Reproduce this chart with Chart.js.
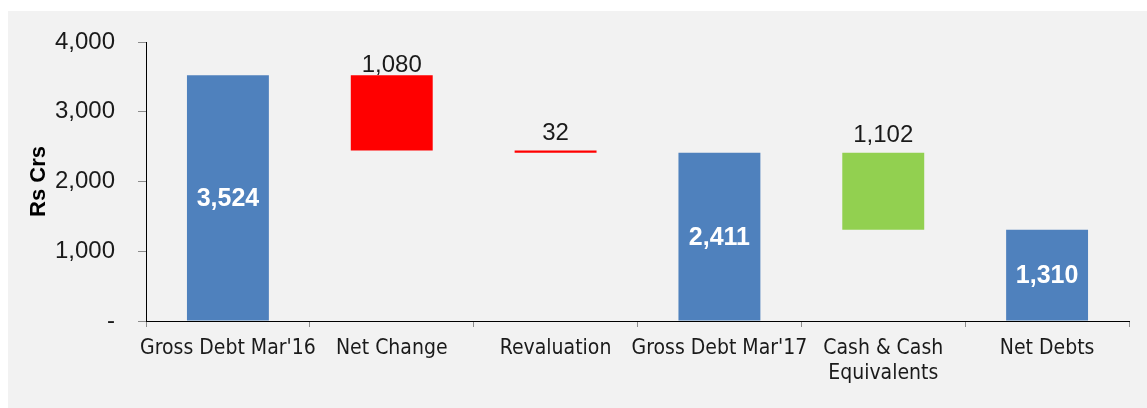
<!DOCTYPE html>
<html>
<head>
<meta charset="utf-8">
<script src="https://cdn.jsdelivr.net/npm/chart.js@4/dist/chart.umd.min.js"></script>
<style>
    html, body { margin: 0; padding: 0; background: #ffffff; }
    #wrap { position: absolute; left: 8px; top: 11px; width: 1139px; height: 397px; background: #f2f2f2; }
</style>
</head>
<body>
<div id="wrap"><canvas id="waterfall" width="1139" height="397"></canvas></div>
<script>
// waterfall data (Rs Crs)
var categories = ["Gross Debt Mar'16", 'Net Change', 'Revaluation', "Gross Debt Mar'17", ['Cash & Cash', 'Equivalents'], 'Net Debts']
var values = [3524, -1080, -32, 2411, -1102, 1310]
var isTotal = [true, false, false, true, false, true]
var yTicks = [0, 1000, 2000, 3000, 4000]

var colors = ['#4f81bd', '#ff0000', '#ff0000', '#4f81bd', '#92d050', '#4f81bd']
var labelGap = [0, 1, 8, 0, 8, 0]

// build floating ranges from running total
var ranges = []
var running = 0
for (var i = 0; i < values.length; i++) {
    if (isTotal[i]) {
        ranges.push([0, values[i]])
        running = values[i]
    } else {
        ranges.push([running + values[i], running])
        running = running + values[i]
    }
}

function fmt(v) {
    return Math.abs(v).toLocaleString('en-US')
}

var barLabels = {
    id: 'barLabels',
    afterDatasetsDraw: function (chart) {
        var ctx = chart.ctx
        var meta = chart.getDatasetMeta(0)
        ctx.save()
        ctx.textAlign = 'center'
        meta.data.forEach(function (bar, i) {
            var top = Math.min(bar.y, bar.base)
            var bottom = Math.max(bar.y, bar.base)
            if (isTotal[i]) {
                ctx.fillStyle = '#ffffff'
                ctx.font = 'bold 25px "Liberation Sans Narrow", "Liberation Sans", sans-serif'
                ctx.textBaseline = 'middle'
                ctx.fillText(fmt(values[i]), bar.x, (top + bottom) / 2 + 1)
            } else {
                ctx.fillStyle = '#1a1a1a'
                ctx.font = '24px "Liberation Sans", sans-serif'
                ctx.textBaseline = 'bottom'
                ctx.fillText(fmt(values[i]), bar.x, top - labelGap[i] + 3)
            }
        })
        ctx.restore()
    }
}

var canvas = document.getElementById('waterfall').getContext('2d')
new Chart(canvas, {
    type: 'bar',
    data: {
        labels: categories,
        datasets: [{
            data: ranges,
            backgroundColor: colors,
            borderWidth: 0,
            barPercentage: 0.5,
            categoryPercentage: 1.0
        }]
    },
    options: {
        responsive: false,
        animation: false,
        layout: { padding: { top: 31, right: 18, left: 0, bottom: 0 } },
        plugins: {
            legend: { display: false },
            tooltip: { enabled: false }
        },
        scales: {
            x: {
                grid: { offset: true, drawOnChartArea: false, tickLength: 6, color: '#8c8c8c', lineWidth: 1 },
                border: { color: '#000000', width: 1 },
                ticks: {
                    color: '#1a1a1a',
                    font: { family: '"Liberation Sans Narrow", "DejaVu Sans Condensed", sans-serif', size: 21 },
                    padding: 9,
                    maxRotation: 0,
                    autoSkip: false
                },
                afterFit: function (scale) { scale.height = 87 }
            },
            y: {
                min: 0,
                max: 4000,
                afterBuildTicks: function (scale) {
                    scale.ticks = yTicks.map(function (v) { return { value: v } })
                },
                grid: { drawOnChartArea: false, tickLength: 8, color: '#8c8c8c', lineWidth: 1 },
                border: { color: '#000000', width: 1 },
                ticks: {
                    color: '#1a1a1a',
                    font: { family: '"Liberation Sans", sans-serif', size: 24 },
                    padding: 23,
                    callback: function (v) { return v === 0 ? '-' : v.toLocaleString('en-US') }
                },
                title: {
                    display: true,
                    text: 'Rs Crs',
                    color: '#000000',
                    font: { family: '"Liberation Sans Narrow", "Liberation Sans", sans-serif', size: 22, weight: 'bold' },
                    padding: { top: 18, bottom: 0 }
                },
                afterFit: function (scale) {
                    scale.width = 138
                    // tick padding would otherwise push the plot area down
                    scale.paddingTop = 0
                    scale.paddingBottom = 0
                }
            }
        }
    },
    plugins: [barLabels]
})
</script>
</body>
</html>
